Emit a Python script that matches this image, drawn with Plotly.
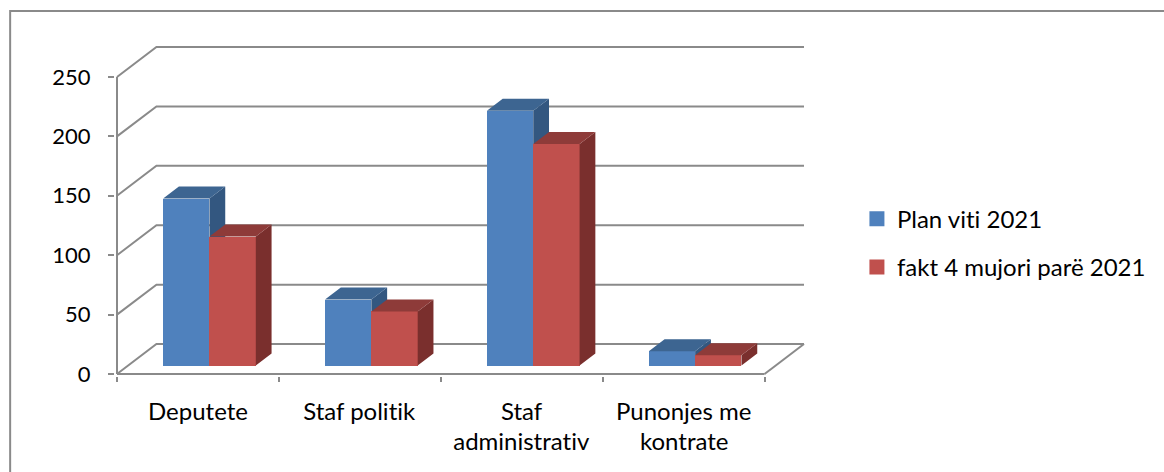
import plotly.graph_objects as go

categories = [["Deputete"], ["Staf politik"], ["Staf", "administrativ"], ["Punonjes me", "kontrate"]]
series_names = ["Plan viti 2021", "fakt 4 mujori parë 2021"]
plan_values = [140.5, 55.5, 214.5, 12]
fact_values = [108.5, 45.5, 186.5, 8.7]
y_ticks = [0, 50, 100, 150, 200, 250]

W, H = 1164, 472
X0, X1, Y0, Y250 = 116.5, 765, 374.5, 77
PX_X = (X1 - X0) / 4
PX_Y = (Y0 - Y250) / 250
FONT = "Lato"
FS = 24
TICK_FS = 22
GREY = "#8a8a8a"


def ux(px):
    return px / PX_X


def uy(px):
    return px / PX_Y


BACK_DX, BACK_DY = ux(39.5), uy(30)
BAR_W = ux(46.4)
BAR_X = ux(46.2)
BAR_BASE = uy(8.5)
DEP_X, DEP_Y = ux(15.8), uy(12)
PAD = 2  # px of room below and left of the axes, so their lines are not clipped

x_lo, x_hi = -ux(PAD), 4 + BACK_DX + ux(2)
y_lo, y_hi = -uy(PAD), 250 + BACK_DY + uy(2)

fig = go.Figure()

# Axes, floor and walls
gx, gy = [0, 0, None, 0, 4, None], [0, 250, None, 0, 0, None]
for t in y_ticks:
    gx += [0, BACK_DX, 4 + BACK_DX, None]
    gy += [t, t + BACK_DY, t + BACK_DY, None]
gx += [4, 4 + BACK_DX, None]
gy += [0, BACK_DY, None]
fig.add_trace(go.Scatter(x=gx, y=gy, mode="lines", line=dict(color=GREY, width=2),
                         showlegend=False, hoverinfo="skip", zorder=0))


def faces(values, shift):
    sx, sy, tx, ty = [], [], [], []
    for i, v in enumerate(values):
        a = i + BAR_X + shift
        b = a + BAR_W
        lo = BAR_BASE
        hi = BAR_BASE + v
        sx += [b, b + DEP_X, b + DEP_X, b, b, None]
        sy += [lo, lo + DEP_Y, hi + DEP_Y, hi, lo, None]
        tx += [a, a + DEP_X, b + DEP_X, b, a, None]
        ty += [hi, hi + DEP_Y, hi + DEP_Y, hi, hi, None]
    return sx, sy, tx, ty


styles = [("#4f81bd", "#3d6591", "#335780"), ("#c0504d", "#8e3b39", "#7a2f2d")]
for k, (vals, name, (front, top, side)) in enumerate(zip([plan_values, fact_values], series_names, styles)):
    shift = k * BAR_W
    fig.add_trace(go.Bar(x=[float(i) for i in range(4)], y=vals, base=BAR_BASE, width=BAR_W,
                         offset=BAR_X + shift, marker=dict(color=front, line=dict(width=0)),
                         name=name, showlegend=False, zorder=1 + 2 * k))
    sx, sy, tx, ty = faces(vals, shift)
    for xs, ys, c in ((sx, sy, side), (tx, ty, top)):
        fig.add_trace(go.Scatter(x=xs, y=ys, mode="lines", fill="toself", fillcolor=c,
                                 line=dict(width=0, color=c),
                                 showlegend=False, hoverinfo="skip", zorder=2 + 2 * k))
    fig.add_trace(go.Scatter(x=[None], y=[None], mode="markers", name=name, legendgroup=name,
                             marker=dict(symbol="square", size=15, color=front)))

# Category labels, one real text per line
annotations = []
for i, lines in enumerate(categories):
    for j, line in enumerate(lines):
        annotations.append(dict(x=i + 0.5, y=0, xref="x", yref="y", text=line, showarrow=False,
                                yanchor="middle", xanchor="center", yshift=-(36 + 30 * j),
                                font=dict(family=FONT, size=FS, color="#000000")))

left = X0 - PAD
right = X1 + 41.5
topp = Y250 - 32
bottom = Y0 + PAD
plot_w = right - left
plot_h = bottom - topp
to_x = lambda p: (p - left) / plot_w
to_y = lambda p: (bottom - p) / plot_h
frame = dict(type="path", xref="paper", yref="paper",
             path=f"M {to_x(9.5)} {to_y(H + 5)} L {to_x(9.5)} {to_y(11)} L {to_x(W + 5)} {to_y(11)}",
             line=dict(color=GREY, width=2), layer="below")

fig.update_layout(
    width=W, height=H, autosize=False,
    margin=dict(l=left, r=W - right, t=topp, b=H - bottom, pad=0),
    paper_bgcolor="white", plot_bgcolor="rgba(0,0,0,0)",
    barmode="overlay", bargap=0,
    shapes=[frame], annotations=annotations,
    xaxis=dict(range=[x_lo, x_hi], tickvals=[], showgrid=False, zeroline=False, showline=False,
               minor=dict(tickvals=[0, 1, 2, 3, 4], ticks="outside", ticklen=5, tickcolor=GREY,
                          tickwidth=2, showgrid=False)),
    yaxis=dict(range=[y_lo, y_hi], tickvals=y_ticks, ticks="outside", ticklen=6, tickcolor=GREY, tickwidth=2,
               showgrid=False, zeroline=False, showline=False, ticklabelstandoff=13,
               tickfont=dict(family=FONT, size=TICK_FS, color="#000000")),
    legend=dict(x=to_x(857.5), y=to_y(197), xanchor="left", yanchor="top",
                font=dict(family=FONT, size=FS, color="#000000"), tracegroupgap=14,
                bgcolor="rgba(0,0,0,0)", itemclick=False, itemdoubleclick=False, itemwidth=30),
    showlegend=True,
)
post = ("document.body.style.margin='0';document.documentElement.style.overflow='hidden';"
        "var s=document.createElement('style');"
        "s.textContent='text{font-variant-ligatures:none !important;font-feature-settings:\"liga\" 0,\"clig\" 0 !important}';"
        "document.head.appendChild(s);")
fig.write_html("out.html", config=dict(displayModeBar=False), post_script=post)
